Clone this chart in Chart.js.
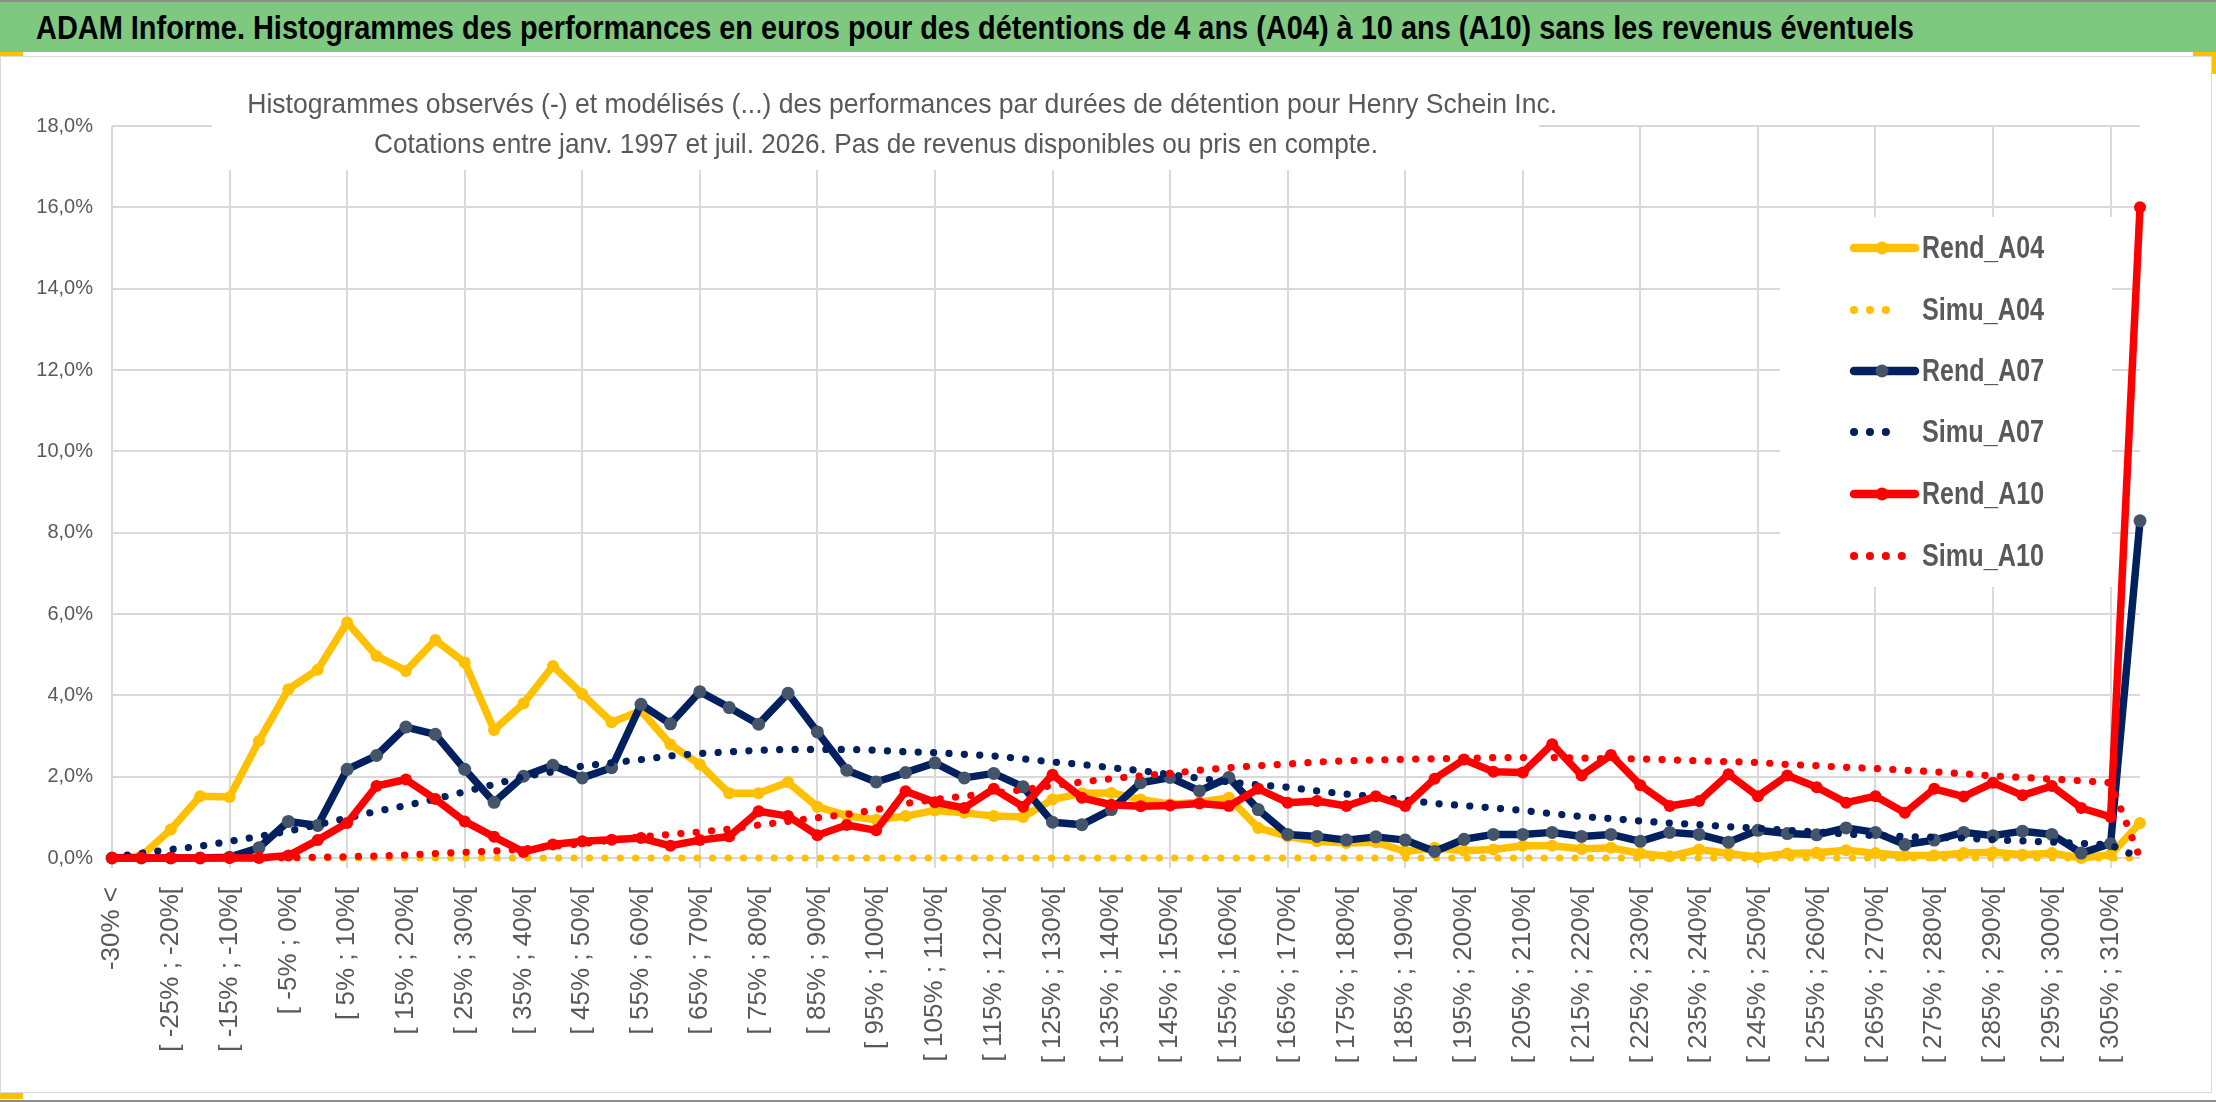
<!DOCTYPE html>
<html lang="fr">
<head>
<meta charset="utf-8">
<title>ADAM Informe - Henry Schein Inc.</title>
<script src="https://cdn.jsdelivr.net/npm/chart.js@4.4.1/dist/chart.umd.min.js"></script>
<style>
    html, body { margin: 0; padding: 0; background: #fff; }
    body {
        width: 2216px; height: 1102px; position: relative; overflow: hidden;
        font-family: 'Liberation Sans Narrow', 'Arial Narrow', 'Liberation Sans', sans-serif;
    }
    #topLine { position: absolute; left: 0; top: 0; width: 2216px; height: 2px; background: #8c8c8c; }
    #titleBar { position: absolute; left: 0; top: 2px; width: 2216px; height: 50px; background: #7ec87f; }
    #titleText {
        position: absolute; left: 36px; top: 0; line-height: 50px; font-size: 34px;
        font-weight: bold; color: #000; white-space: nowrap; transform-origin: left center;
    }
    .mark { position: absolute; background: #ffc000; }
    #chart { position: absolute; left: 0; top: 57px; }
    #frame {
        position: absolute; left: 0; top: 56px; width: 2210px; height: 1035px;
        border: 1px solid #d9d9d9; pointer-events: none;
    }
    #bottomLine { position: absolute; left: 0; top: 1100px; width: 2216px; height: 2px; background: #8c8c8c; }
    .subLine {
        position: absolute; left: 212px; width: 1327px; text-align: center;
        font-size: 28px; line-height: 40px; color: #595959; white-space: nowrap;
    }
    .subLine span { display: inline-block; transform-origin: center center; }
    .legRow { position: absolute; left: 1846px; height: 40px; line-height: 40px; }
    .legRow svg { position: absolute; left: 0; top: 8px; }
    .legRow b {
        position: absolute; left: 76px; top: 0; font-size: 31px; color: #595959;
        white-space: nowrap; transform-origin: left center;
    }
</style>
</head>
<body>
<div id="topLine"></div>
<div id="titleBar"><span id="titleText">ADAM Informe. Histogrammes des performances en euros pour des détentions de 4 ans (A04) à 10 ans (A10) sans les revenus éventuels</span></div>
<div class="mark" style="left:0;top:52px;width:23px;height:4px"></div>
<div class="mark" style="left:2193px;top:52px;width:23px;height:4px"></div>
<div class="mark" style="left:2212px;top:52px;width:4px;height:22px"></div>

<canvas id="chart" width="2212" height="1035"></canvas>
<div id="frame"></div>
<div class="mark" style="left:0;top:1093px;width:23px;height:6px"></div>
<div id="bottomLine"></div>

<div class="subLine" style="top:84px"><span id="sub1">Histogrammes observés (-) et modélisés (...) des performances par durées de détention pour Henry Schein Inc.</span></div>
<div class="subLine" style="top:124px"><span id="sub2">Cotations entre janv. 1997 et juil. 2026. Pas de revenus disponibles ou pris en compte.</span></div>

<div id="legend"></div>

<script>
// Categories (classes de performance)
const categories = [
    "-30% <",
    "[ -30% ; -25%[", "[ -25% ; -20%[", "[ -20% ; -15%[", "[ -15% ; -10%[", "[ -10% ; -5%[",
    "[ -5% ; 0%[", "[ 0% ; 5%[", "[ 5% ; 10%[", "[ 10% ; 15%[", "[ 15% ; 20%[",
    "[ 20% ; 25%[", "[ 25% ; 30%[", "[ 30% ; 35%[", "[ 35% ; 40%[", "[ 40% ; 45%[",
    "[ 45% ; 50%[", "[ 50% ; 55%[", "[ 55% ; 60%[", "[ 60% ; 65%[", "[ 65% ; 70%[",
    "[ 70% ; 75%[", "[ 75% ; 80%[", "[ 80% ; 85%[", "[ 85% ; 90%[", "[ 90% ; 95%[",
    "[ 95% ; 100%[", "[ 100% ; 105%[", "[ 105% ; 110%[", "[ 110% ; 115%[", "[ 115% ; 120%[",
    "[ 120% ; 125%[", "[ 125% ; 130%[", "[ 130% ; 135%[", "[ 135% ; 140%[", "[ 140% ; 145%[",
    "[ 145% ; 150%[", "[ 150% ; 155%[", "[ 155% ; 160%[", "[ 160% ; 165%[", "[ 165% ; 170%[",
    "[ 170% ; 175%[", "[ 175% ; 180%[", "[ 180% ; 185%[", "[ 185% ; 190%[", "[ 190% ; 195%[",
    "[ 195% ; 200%[", "[ 200% ; 205%[", "[ 205% ; 210%[", "[ 210% ; 215%[", "[ 215% ; 220%[",
    "[ 220% ; 225%[", "[ 225% ; 230%[", "[ 230% ; 235%[", "[ 235% ; 240%[", "[ 240% ; 245%[",
    "[ 245% ; 250%[", "[ 250% ; 255%[", "[ 255% ; 260%[", "[ 260% ; 265%[", "[ 265% ; 270%[",
    "[ 270% ; 275%[", "[ 275% ; 280%[", "[ 280% ; 285%[", "[ 285% ; 290%[", "[ 290% ; 295%[",
    "[ 295% ; 300%[", "[ 300% ; 305%[", "[ 305% ; 310%[", "310% >"
];

// Series values, in %
const rendA04 = [
    0.00, 0.05, 0.70, 1.52, 1.50, 2.88, 4.15, 4.63, 5.79, 4.97,
    4.60, 5.36, 4.81, 3.15, 3.80, 4.72, 4.03, 3.34, 3.62, 2.79,
    2.30, 1.59, 1.59, 1.86, 1.26, 1.04, 0.94, 1.03, 1.17, 1.11,
    1.03, 1.01, 1.44, 1.59, 1.60, 1.44, 1.32, 1.37, 1.48, 0.74,
    0.53, 0.41, 0.37, 0.39, 0.16, 0.25, 0.18, 0.21, 0.30, 0.30,
    0.22, 0.25, 0.11, 0.04, 0.21, 0.11, 0.02, 0.11, 0.13, 0.19,
    0.12, 0.06, 0.06, 0.12, 0.14, 0.08, 0.12, 0.00, 0.08, 0.86
];
const simuA04 = [
    0, 0, 0, 0, 0, 0, 0, 0, 0, 0,
    0, 0, 0, 0, 0, 0, 0, 0, 0, 0,
    0, 0, 0, 0, 0, 0, 0, 0, 0, 0,
    0, 0, 0, 0, 0, 0, 0, 0, 0, 0,
    0, 0, 0, 0, 0, 0, 0, 0, 0, 0,
    0, 0, 0, 0, 0, 0, 0, 0, 0, 0,
    0, 0, 0, 0, 0, 0, 0, 0, 0, 0
];
const rendA07 = [
    0.00, 0.00, 0.00, 0.00, 0.02, 0.25, 0.90, 0.80, 2.18, 2.52,
    3.22, 3.04, 2.18, 1.37, 2.01, 2.28, 1.97, 2.22, 3.78, 3.30,
    4.09, 3.70, 3.29, 4.05, 3.10, 2.16, 1.87, 2.10, 2.34, 1.97,
    2.08, 1.75, 0.88, 0.82, 1.19, 1.85, 1.98, 1.65, 1.98, 1.19,
    0.58, 0.53, 0.44, 0.52, 0.44, 0.16, 0.46, 0.58, 0.58, 0.63,
    0.53, 0.58, 0.41, 0.63, 0.58, 0.39, 0.68, 0.60, 0.57, 0.74,
    0.63, 0.33, 0.44, 0.63, 0.55, 0.66, 0.58, 0.12, 0.35, 8.29
];
const simuA07 = [
    0.02, 0.12, 0.21, 0.29, 0.41, 0.53, 0.66, 0.82, 0.98, 1.15,
    1.29, 1.45, 1.63, 1.81, 2.00, 2.12, 2.26, 2.34, 2.42, 2.51,
    2.57, 2.61, 2.65, 2.67, 2.67, 2.67, 2.65, 2.61, 2.59, 2.55,
    2.51, 2.44, 2.36, 2.30, 2.22, 2.15, 2.05, 1.96, 1.87, 1.80,
    1.74, 1.65, 1.57, 1.51, 1.43, 1.34, 1.29, 1.23, 1.17, 1.09,
    1.02, 0.97, 0.91, 0.86, 0.82, 0.77, 0.73, 0.68, 0.64, 0.59,
    0.55, 0.53, 0.51, 0.49, 0.45, 0.42, 0.39, 0.36, 0.32, 0.00
];
const rendA10 = [
    0.00, 0.00, 0.00, 0.00, 0.00, 0.00, 0.06, 0.44, 0.86, 1.77,
    1.93, 1.45, 0.90, 0.52, 0.15, 0.33, 0.41, 0.45, 0.49, 0.30,
    0.44, 0.53, 1.15, 1.03, 0.56, 0.81, 0.68, 1.64, 1.37, 1.23,
    1.70, 1.26, 2.05, 1.48, 1.31, 1.27, 1.29, 1.34, 1.28, 1.70,
    1.36, 1.40, 1.28, 1.52, 1.28, 1.95, 2.42, 2.12, 2.10, 2.80,
    2.03, 2.53, 1.79, 1.28, 1.40, 2.06, 1.52, 2.03, 1.74, 1.36,
    1.52, 1.11, 1.70, 1.51, 1.85, 1.54, 1.77, 1.23, 1.01, 16.00
];
const simuA10 = [
    0.00, 0.00, 0.00, 0.00, 0.00, 0.01, 0.01, 0.02, 0.03, 0.05,
    0.07, 0.11, 0.14, 0.17, 0.22, 0.29, 0.35, 0.44, 0.52, 0.58,
    0.64, 0.71, 0.81, 0.90, 0.99, 1.07, 1.19, 1.34, 1.44, 1.52,
    1.60, 1.68, 1.78, 1.87, 1.95, 2.02, 2.08, 2.16, 2.22, 2.27,
    2.31, 2.36, 2.39, 2.41, 2.43, 2.44, 2.45, 2.47, 2.47, 2.47,
    2.46, 2.44, 2.44, 2.41, 2.39, 2.37, 2.35, 2.30, 2.27, 2.23,
    2.20, 2.16, 2.12, 2.07, 2.02, 1.98, 1.94, 1.90, 1.85, 0.00
];

// Y axis ticks (in %)
const yTicks = [0, 2, 4, 6, 8, 10, 12, 14, 16, 18];

const YELLOW = '#ffc000';
const NAVY = '#002060';
const SLATE = '#44546a';
const RED = '#ff0000';
const GRID = '#d9d9d9';
const TEXT = '#595959';
const FONT = "'Liberation Sans Narrow', 'Arial Narrow', 'Liberation Sans', sans-serif";

// legend entries: name, colour, marker colour (null = dotted)
const legendItems = [
    ['Rend_A04', YELLOW, YELLOW],
    ['Simu_A04', YELLOW, null],
    ['Rend_A07', NAVY, SLATE],
    ['Simu_A07', NAVY, null],
    ['Rend_A10', RED, RED],
    ['Simu_A10', RED, null]
];

function solidSet(label, values, color, pointColor, radius, order) {
    return {
        label: label, data: values, order: order,
        borderColor: color, borderWidth: 7.5, tension: 0,
        borderJoinStyle: 'round', borderCapStyle: 'round',
        pointRadius: radius, pointBackgroundColor: pointColor,
        pointBorderColor: pointColor, pointBorderWidth: 0, clip: false
    };
}

function dottedSet(label, values, color, order) {
    return {
        label: label, data: values, order: order,
        borderColor: color, borderWidth: 7.2, tension: 0,
        borderDash: [0.1, 15.3], borderCapStyle: 'round',
        pointRadius: 0, clip: false
    };
}

// white boxes behind the subtitle and the legend (canvas coords), drawn over the grid
const maskPlugin = {
    id: 'masks',
    beforeDatasetsDraw(chart) {
        const ctx = chart.ctx;
        ctx.save();
        ctx.fillStyle = '#fff';
        ctx.fillRect(212, 4, 1327, 109);
        ctx.fillRect(1780, 160, 332, 370);
        ctx.restore();
    }
};

function createChart() {
    const ctx = document.getElementById('chart').getContext('2d');
    new Chart(ctx, {
        type: 'line',
        data: {
            labels: categories,
            datasets: [
                solidSet('Rend_A04', rendA04, YELLOW, YELLOW, 6, 6),
                dottedSet('Simu_A04', simuA04, YELLOW, 5),
                solidSet('Rend_A07', rendA07, NAVY, SLATE, 6.5, 4),
                dottedSet('Simu_A07', simuA07, NAVY, 3),
                solidSet('Rend_A10', rendA10, RED, RED, 6, 2),
                dottedSet('Simu_A10', simuA10, RED, 1)
            ]
        },
        options: {
            responsive: false,
            animation: false,
            devicePixelRatio: 1,
            layout: { padding: { top: 69, right: 72, left: 0, bottom: 0 } },
            plugins: {
                legend: { display: false },
                title: { display: false },
                tooltip: { enabled: false }
            },
            scales: {
                x: {
                    offset: false,
                    border: { display: false },
                    grid: {
                        color: c => (c.index % 4 === 0 ? GRID : 'rgba(0,0,0,0)'),
                        tickColor: c => (c.index % 4 === 0 ? GRID : 'rgba(0,0,0,0)'),
                        lineWidth: 2,
                        tickLength: 10
                    },
                    ticks: {
                        autoSkip: false,
                        maxRotation: 90,
                        minRotation: 90,
                        padding: 19,
                        color: TEXT,
                        font: { family: FONT, size: 26 },
                        callback: function(value, index) {
                            return index % 2 === 0 ? categories[index] : '';
                        }
                    },
                    afterFit: function(scale) { scale.height = 234; }
                },
                y: {
                    min: yTicks[0],
                    max: yTicks[yTicks.length - 1],
                    border: { display: false },
                    grid: { color: GRID, lineWidth: 2, drawTicks: false },
                    afterBuildTicks: function(scale) {
                        scale.ticks = yTicks.map(v => ({ value: v }));
                    },
                    ticks: {
                        padding: 19,
                        color: TEXT,
                        font: { family: FONT, size: 20 },
                        callback: v => v.toFixed(1).replace('.', ',') + '%'
                    },
                    afterFit: function(scale) { scale.width = 112; }
                }
            }
        },
        plugins: [maskPlugin]
    });
}

function buildLegend() {
    const box = document.getElementById('legend');
    const rowCenters = [248, 310, 371, 432, 494, 556];
    legendItems.forEach((item, i) => {
        const row = document.createElement('div');
        row.className = 'legRow';
        row.style.top = (rowCenters[i] - 20) + 'px';
        let svg;
        if (item[2]) {
            svg = `<svg width="76" height="24"><line x1="8" y1="12" x2="69" y2="12" stroke="${item[1]}" stroke-width="8.5" stroke-linecap="round"/>` +
                  `<circle cx="36" cy="12" r="6.5" fill="${item[2]}"/></svg>`;
        } else {
            const end = item[0] === 'Simu_A10' ? 66 : 55;
            svg = `<svg width="76" height="24"><line x1="8" y1="12" x2="${end}" y2="12" stroke="${item[1]}" stroke-width="8" stroke-linecap="round" stroke-dasharray="0.1 15.8"/></svg>`;
        }
        row.innerHTML = svg + '<b>' + item[0] + '</b>';
        box.appendChild(row);
    });
}

// squeeze a text line to the width it takes in the reference
function fitWidth(el, target) {
    const w = el.getBoundingClientRect().width;
    if (w > 0) el.style.transform = 'scaleX(' + (target / w).toFixed(4) + ')';
}

document.addEventListener('DOMContentLoaded', function() {
    buildLegend();
    fitWidth(document.getElementById('titleText'), 1878);
    fitWidth(document.getElementById('sub1'), 1310);
    fitWidth(document.getElementById('sub2'), 1004);
    document.querySelectorAll('.legRow b').forEach(b => fitWidth(b, 122));
    createChart();
});
</script>
</body>
</html>
